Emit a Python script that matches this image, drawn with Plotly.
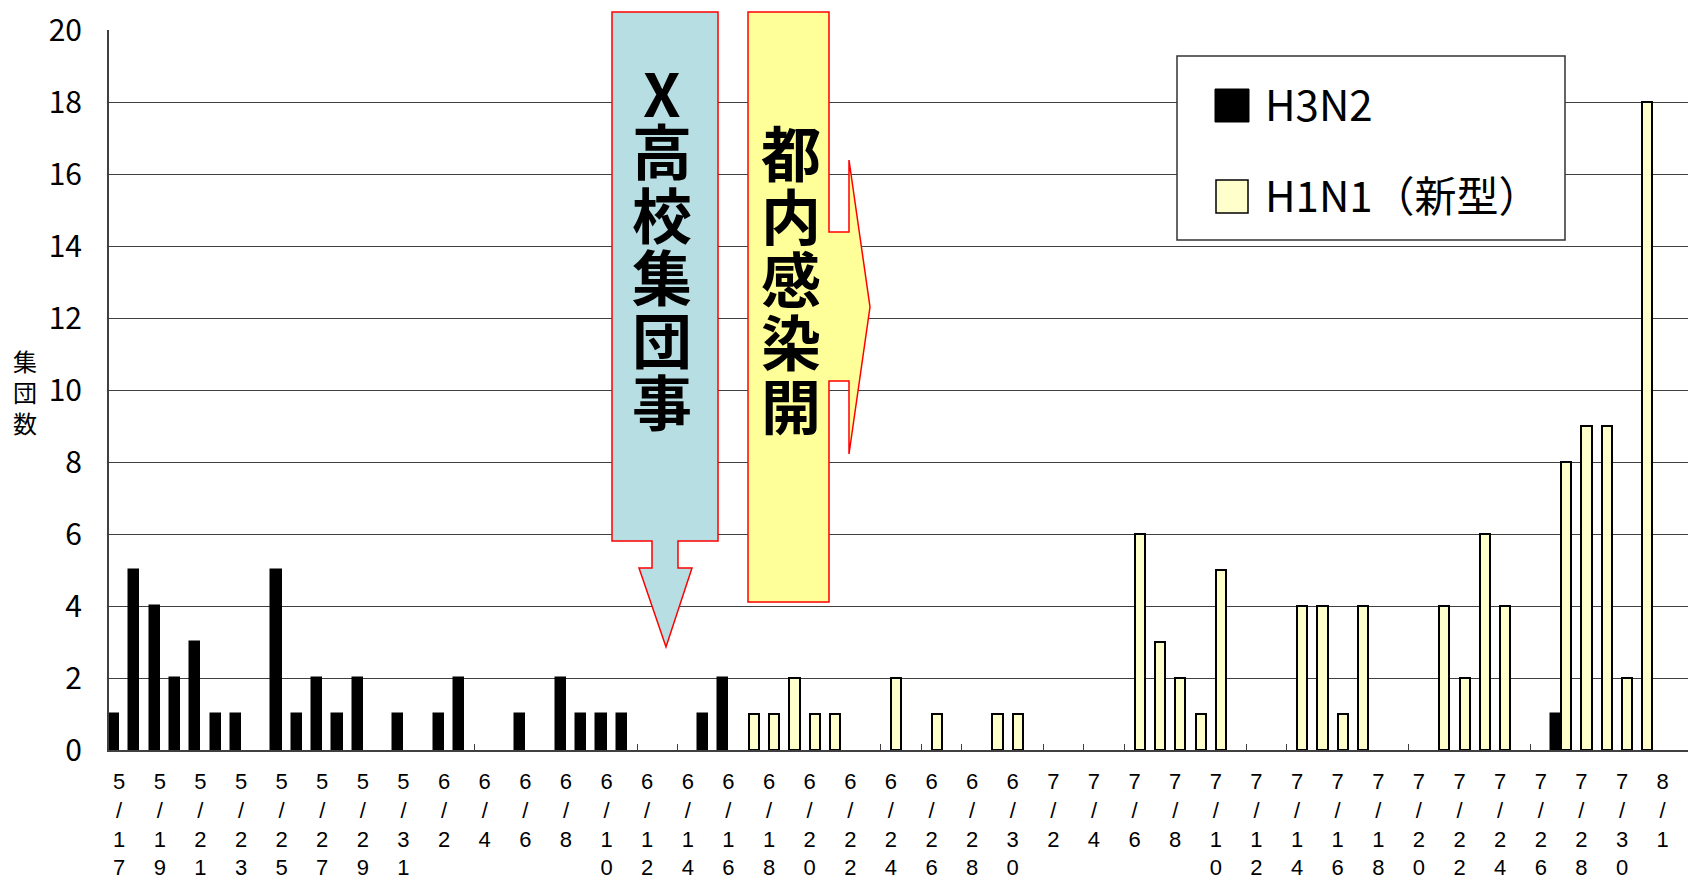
import pandas as pd
import plotly.graph_objects as go

FONT = "Noto Sans CJK JP"
TICK_FONT = "Liberation Sans Narrow, Liberation Sans, sans-serif"

# Daily categories, 5/17 through 8/1 (2009)
dates = [f"{d.month}/{d.day}" for d in pd.date_range("2009-05-17", "2009-08-01")]

# Number of outbreak clusters per day
h3n2 = [
    1, 5, 4, 2, 3, 1, 1, 0, 5, 1,   # 5/17 - 5/26
    2, 1, 2, 0, 1, 0, 1, 2, 0, 0,   # 5/27 - 6/5
    1, 0, 2, 1, 1, 1, 0, 0, 0, 1,   # 6/6 - 6/15
    2, 0, 0, 0, 0, 0, 0, 0, 0, 0,   # 6/16 - 6/25
    0, 0, 0, 0, 0, 0, 0, 0, 0, 0,   # 6/26 - 7/5
    0, 0, 0, 0, 0, 0, 0, 0, 0, 0,   # 7/6 - 7/15
    0, 0, 0, 0, 0, 0, 0, 0, 0, 0,   # 7/16 - 7/25
    0, 1, 0, 0, 0, 0, 0,            # 7/26 - 8/1
]
h1n1 = [
    0, 0, 0, 0, 0, 0, 0, 0, 0, 0,   # 5/17 - 5/26
    0, 0, 0, 0, 0, 0, 0, 0, 0, 0,   # 5/27 - 6/5
    0, 0, 0, 0, 0, 0, 0, 0, 0, 0,   # 6/6 - 6/15
    0, 1, 1, 2, 1, 1, 0, 0, 2, 0,   # 6/16 - 6/25
    1, 0, 0, 1, 1, 0, 0, 0, 0, 0,   # 6/26 - 7/5
    6, 3, 2, 1, 5, 0, 0, 0, 4, 4,   # 7/6 - 7/15
    1, 4, 0, 0, 0, 4, 2, 6, 4, 0,   # 7/16 - 7/25
    0, 8, 9, 9, 2, 18, 0,           # 7/26 - 8/1
]

series_names = ["H3N2", "H1N1（新型）"]
y_title = "集団数"
note_school = "X高校集団事"
note_city = "都内感染開"

idx = list(range(len(dates)))
label_idx = idx[::2]
label_text = ["<br>".join(list(dates[i])) for i in label_idx]


def nonzero(values):
    # days without clusters get no bar at all (no outline along the axis)
    return [v if v else None for v in values]


# Figure geometry (pixels)
W, H = 1688, 884
L, R, T, B = 109, 0, 30, 134
PW, PH = W - L - R, H - T - B


def fx(px):
    return (px - L) / PW


def fy(py):
    return (H - B - py) / PH


def path(points):
    return "M " + " L ".join(f"{fx(x):.5f},{fy(y):.5f}" for x, y in points) + " Z"


fig = go.Figure()
fig.add_trace(go.Bar(
    x=idx, y=nonzero(h3n2), name=series_names[0],
    marker=dict(color="black", line=dict(color="black", width=1.5)),
))
fig.add_trace(go.Bar(
    x=idx, y=nonzero(h1n1), name=series_names[1],
    marker=dict(color="#FFFFCC", line=dict(color="black", width=2)),
))

shapes = []
# Down arrow: school cluster
shapes.append(dict(
    type="path", xref="paper", yref="paper", layer="above",
    path=path([(612, 12), (718, 12), (718, 541), (678, 541), (678, 568),
               (692, 568), (666, 647), (639, 568), (652, 568), (652, 541),
               (612, 541)]),
    fillcolor="#B7DEE3", line=dict(color="#FF0000", width=1.5),
))
# Right arrow: spread in the city
shapes.append(dict(
    type="path", xref="paper", yref="paper", layer="above",
    path=path([(748, 12), (829, 12), (829, 232), (849, 232), (849, 160),
               (870, 307), (849, 454), (849, 381), (829, 381), (829, 602),
               (748, 602)]),
    fillcolor="#FFFF99", line=dict(color="#FF0000", width=1.5),
))
# Legend box and swatches
shapes.append(dict(type="rect", xref="paper", yref="paper", layer="above",
                   x0=fx(1177), x1=fx(1565), y0=fy(56), y1=fy(240),
                   fillcolor="white", line=dict(color="#333333", width=1.5)))
shapes.append(dict(type="rect", xref="paper", yref="paper", layer="above",
                   x0=fx(1215), x1=fx(1249), y0=fy(89), y1=fy(122),
                   fillcolor="black", line=dict(color="black", width=1)))
shapes.append(dict(type="rect", xref="paper", yref="paper", layer="above",
                   x0=fx(1216), x1=fx(1248), y0=fy(180), y1=fy(213),
                   fillcolor="#FFFFCC", line=dict(color="black", width=1.5)))

annotations = []
for ch, cy in zip(note_school, [90, 149, 212, 274, 337, 400]):
    annotations.append(dict(text=ch, x=fx(662), y=fy(cy), xref="paper", yref="paper",
                            showarrow=False, xanchor="center", yanchor="middle",
                            font=dict(family=FONT, size=60, color="black", weight="bold")))
for ch, cy in zip(note_city, [151, 213, 276, 339, 404]):
    annotations.append(dict(text=ch, x=fx(791), y=fy(cy), xref="paper", yref="paper",
                            showarrow=False, xanchor="center", yanchor="middle",
                            font=dict(family=FONT, size=60, color="black", weight="bold")))
for name, cy in zip(series_names, [103, 194]):
    annotations.append(dict(text=name, x=fx(1263), y=fy(cy), xref="paper", yref="paper",
                            showarrow=False, xanchor="left", yanchor="middle",
                            font=dict(family=FONT, size=42, color="black")))
annotations.append(dict(text="<br>".join(y_title), x=fx(25), y=fy(391),
                        xref="paper", yref="paper", showarrow=False,
                        xanchor="center", yanchor="middle",
                        font=dict(family=FONT, size=24, color="black")))

fig.update_layout(
    width=W, height=H,
    margin=dict(l=L, r=R, t=T, b=B, pad=0),
    paper_bgcolor="white", plot_bgcolor="white",
    barmode="group", bargap=0, bargroupgap=0,
    showlegend=False,
    font=dict(family=FONT, color="black"),
    shapes=shapes, annotations=annotations,
    xaxis=dict(
        type="linear", range=[-0.5, 77.25], automargin=False,
        tickmode="array", tickvals=label_idx, ticktext=label_text,
        ticks="", showgrid=False, zeroline=False,
        showline=True, linecolor="#404040", linewidth=2,
        tickfont=dict(family=TICK_FONT, size=22, color="black"),
        ticklabelstandoff=11,
        minor=dict(tickmode="linear", tick0=-0.5, dtick=2, ticks="inside",
                   ticklen=6, tickwidth=1, tickcolor="#404040", showgrid=False),
        layer="below traces",
    ),
    yaxis=dict(
        range=[0, 20], tickmode="linear", tick0=0, dtick=2, automargin=False,
        showgrid=True, gridcolor="#404040", gridwidth=1,
        zeroline=False, showline=True, linecolor="#404040", linewidth=2,
        ticks="", tickfont=dict(family=FONT, size=30, color="black"),
        ticklabelstandoff=19,
        layer="below traces",
    ),
)

fig.write_html("out.html")
